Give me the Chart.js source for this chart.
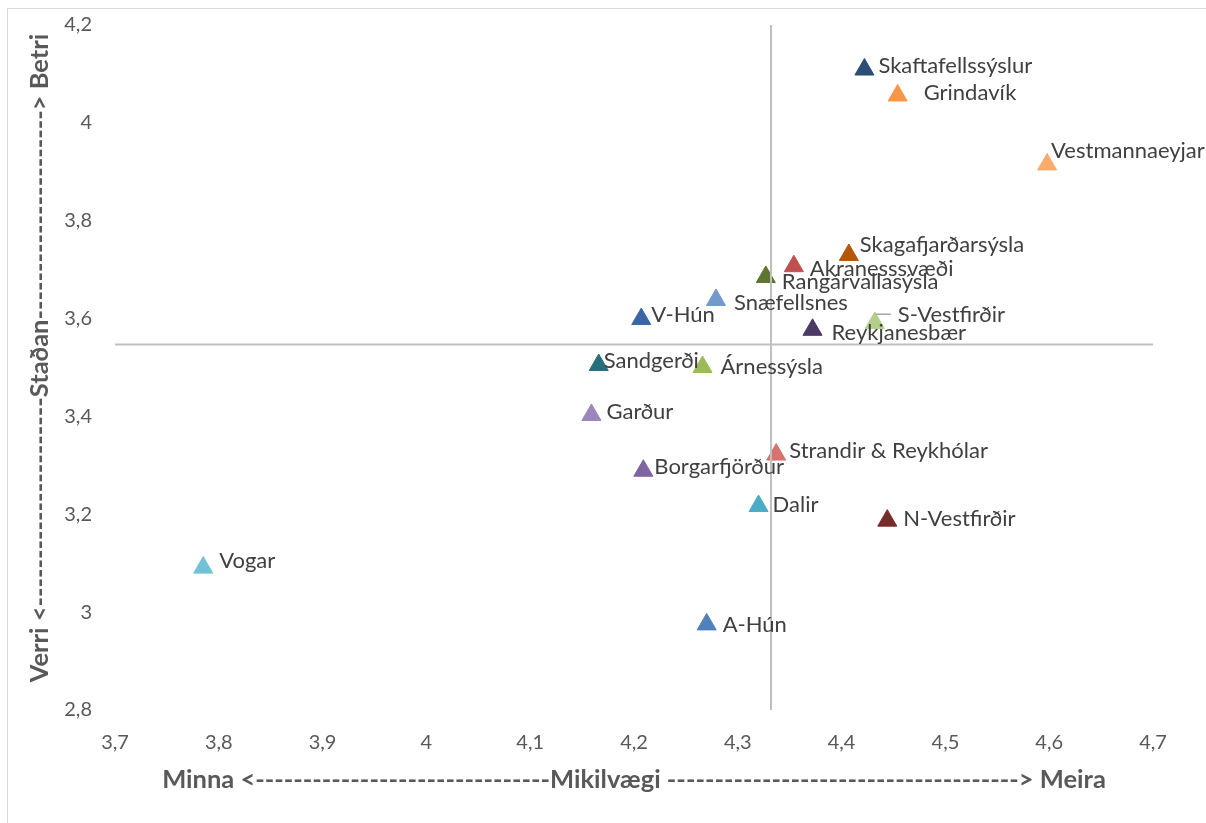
<!DOCTYPE html>
<html><head><meta charset="utf-8">
<script src="https://cdn.jsdelivr.net/npm/chart.js@4.4.1/dist/chart.umd.min.js"></script>
<style>html,body{margin:0;padding:0;background:#fff;overflow:hidden}</style>
</head><body>
<canvas id="c" width="1206" height="823"></canvas>
<script>
// ---- data ----
const regions = ['Skaftafellssýslur','Grindavík','Vestmannaeyjar','Skagafjarðarsýsla','Akranesssvæði','Rangárvallasýsla','Snæfellsnes','V-Hún','S-Vestfirðir','Reykjanesbær','Sandgerði','Árnessýsla','Garður','Strandir & Reykhólar','Borgarfjörður','Dalir','N-Vestfirðir','A-Hún','Vogar'];
const importance = [4.422,4.454,4.598,4.407,4.354,4.327,4.279,4.207,4.432,4.372,4.166,4.266,4.159,4.337,4.209,4.320,4.444,4.270,3.785];
const status =     [4.109,4.056,3.915,3.730,3.707,3.685,3.638,3.599,3.591,3.577,3.505,3.501,3.403,3.322,3.289,3.217,3.187,2.975,3.091];
const meanImportance = [4.332];
const meanStatus = [3.547];
const xTicks = [3.7,3.8,3.9,4.0,4.1,4.2,4.3,4.4,4.5,4.6,4.7];
const xTickLabels = ['3,7','3,8','3,9','4','4,1','4,2','4,3','4,4','4,5','4,6','4,7'];
const yTicks = [2.8,3.0,3.2,3.4,3.6,3.8,4.0,4.2];
const yTickLabels = ['2,8','3','3,2','3,4','3,6','3,8','4','4,2'];

// ---- styles ----
const markerColors = ['#2c4d75','#f79646','#fbac6c','#b65708','#c0504d','#5f7530','#729aca','#3a67a4','#b3cf8a','#4b3a66','#256f7c','#9bbb59','#9d85be','#d67371','#8064a2','#4bacc6','#772c2a','#4f81bd','#72c1d6'];
// label offsets [dx, dy] from the marker's visual centre
const labelOffsets = [[14,-1],[26,0],[4,-11],[11,-7],[16,5],[16,8],[18,6],[10,-1],[23,-5],[19,6],[5,-1],[18,3],[15,0],[13,-1],[11,-1],[14,2],[16,1],[16,3],[16,-4]];

const MR = 11;

const labelPlugin = {
  id: 'labels',
  beforeDraw(chart) {
    const ctx = chart.ctx;
    ctx.save();
    ctx.fillStyle = '#fff';
    ctx.fillRect(0,0,chart.width,chart.height);
    ctx.strokeStyle = '#d9d9d9';
    ctx.lineWidth = 1;
    ctx.strokeRect(7.5, 8.5, 1300, 1000);
    ctx.restore();
  },
  afterDatasetsDraw(chart) {
    const ctx = chart.ctx;
    const meta = chart.getDatasetMeta(2);
    ctx.save();
    ctx.font = '22px Lato';
    ctx.fillStyle = '#404040';
    ctx.textAlign = 'left';
    ctx.textBaseline = 'middle';
    meta.data.forEach((pt, i) => {
      const cx = pt.x, cy = pt.y - MR/4;
      const [dx, dy] = labelOffsets[i];
      if (i === 8) {
        ctx.save();
        ctx.strokeStyle = '#a6a6a6';
        ctx.lineWidth = 1.5;
        ctx.beginPath();
        ctx.moveTo(cx + 1, cy - 6);
        ctx.lineTo(cx + 16, cy - 6);
        ctx.stroke();
        ctx.restore();
      }
      ctx.fillText(regions[i], cx + dx, cy + dy);
    });
    ctx.restore();
  },
  afterDraw(chart) {
    const ctx = chart.ctx;
    const a = chart.chartArea;
    ctx.save();
    ctx.fillStyle = '#595959';
    ctx.font = 'bold 25.5px Lato';
    ctx.textBaseline = 'middle';
    ctx.textAlign = 'center';
    const dw = ctx.measureText('-').width;
    const d = px => '-'.repeat(Math.round(px / dw));
    const xt = 'Minna <' + d(296) + 'Mikilvægi ' + d(356) + '> Meira';
    ctx.fillText(xt, (a.left + a.right) / 2, 780);
    ctx.translate(40, 358);
    ctx.rotate(-Math.PI / 2);
    const yt = 'Verri <' + d(206) + 'Staðan' + d(209) + '> Betri';
    ctx.fillText(yt, 0, 0);
    ctx.restore();
  }
};

const tickFont = { family: 'Lato', size: 20 };

new Chart(document.getElementById('c'), {
  type: 'scatter',
  data: {
    datasets: [
      {
        type: 'line',
        data: [{x: xTicks[0], y: meanStatus[0]}, {x: xTicks[xTicks.length-1], y: meanStatus[0]}],
        borderColor: '#bfbfbf', borderWidth: 2, pointRadius: 0, fill: false
      },
      {
        type: 'line',
        data: [{x: meanImportance[0], y: yTicks[0]}, {x: meanImportance[0], y: yTicks[yTicks.length-1]}],
        borderColor: '#bfbfbf', borderWidth: 2, pointRadius: 0, fill: false
      },
      {
        data: importance.map((v, i) => ({x: v, y: status[i]})),
        pointStyle: 'triangle',
        pointRadius: MR,
        pointHoverRadius: MR,
        pointBackgroundColor: markerColors,
        pointBorderColor: markerColors,
        pointBorderWidth: 1
      }
    ]
  },
  options: {
    responsive: false,
    animation: false,
    events: [],
    layout: { padding: { top: 25, right: 53, bottom: 0, left: 0 } },
    plugins: { legend: { display: false }, tooltip: { enabled: false } },
    scales: {
      x: {
        type: 'linear', min: 3.7, max: 4.7,
        grid: { display: false, drawTicks: false },
        border: { display: false },
        afterBuildTicks: s => { s.ticks = xTicks.map(v => ({ value: v })); },
        afterFit: s => { s.height = 113; s.paddingLeft = 0; s.paddingRight = 0; },
        ticks: { padding: 21, color: '#595959', font: tickFont, maxRotation: 0, autoSkip: false,
                 callback: (v, i) => xTickLabels[i] }
      },
      y: {
        type: 'linear', min: 2.8, max: 4.2,
        grid: { display: false, drawTicks: false },
        border: { display: false },
        afterBuildTicks: s => { s.ticks = yTicks.map(v => ({ value: v })); },
        afterFit: s => { s.width = 115; s.paddingTop = 0; s.paddingBottom = 0; },
        ticks: { padding: 23, color: '#595959', font: tickFont, autoSkip: false,
                 callback: (v, i) => yTickLabels[i] }
      }
    }
  },
  plugins: [labelPlugin]
});
</script>
</body></html>
